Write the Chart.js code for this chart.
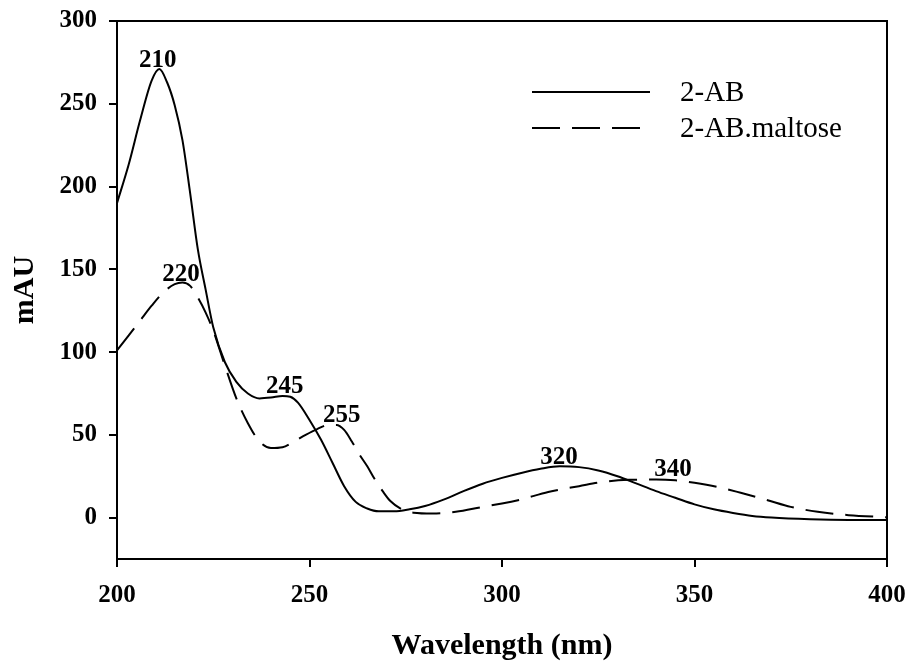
<!DOCTYPE html>
<html>
<head>
<meta charset="utf-8">
<title>2-AB absorbance spectra</title>
<script src="https://cdn.jsdelivr.net/npm/chart.js@4.4.0/dist/chart.umd.min.js"></script>
<style>
  html, body { margin: 0; padding: 0; background: #fff; }
  #wrap { width: 908px; height: 661px; }
</style>
</head>
<body>
<div id="wrap"><canvas id="spectrum" width="908" height="661"></canvas></div>
<script>
// Series 1: 2-AB (solid)
const wavelengthAB = [200, 203, 206, 209, 211, 213, 215, 217, 219, 221, 223, 225, 228, 231, 234, 237, 240, 243, 245, 247, 250, 253, 256, 259, 262, 265, 268, 272, 276, 280, 285, 290, 295, 300, 305, 310, 315, 320, 325, 330, 335, 340, 345, 350, 355, 360, 365, 370, 380, 390, 400];
const absAB = [190, 213, 240, 264, 271, 263, 249, 228, 196, 162, 138, 115, 94, 82, 75, 72, 72.5, 73.5, 73, 69.5, 59, 47, 33, 19, 9.5, 5.5, 3.8, 3.8, 5, 7, 11, 16, 20.5, 24, 27, 29.5, 31, 30.5, 28.5, 25, 20.5, 16, 12, 8, 5, 2.8, 1, 0, -1, -1.4, -1.4];

// Series 2: 2-AB.maltose (dashed)
const wavelengthMal = [200, 203, 206, 209, 212, 215, 217, 219, 221, 223, 225, 228, 231, 234, 237, 240, 243, 246, 249, 252, 255, 257, 259, 261, 263, 265, 267, 269, 271, 274, 277, 282, 288, 295, 300, 305, 312, 320, 327, 333, 340, 345, 350, 356, 362, 369, 375, 382, 390, 400];
const absMal = [101, 110, 119, 128, 136, 141, 142, 140, 133, 124, 113, 92, 72, 57, 46, 42, 42.5, 46, 50, 53.5, 56, 56, 53, 46, 38, 31, 23, 16, 10, 5, 3, 2.5, 3.5, 6.5, 8.5, 11, 15.5, 19, 21.8, 22.8, 23, 22.5, 21, 18.5, 15, 10.5, 6.5, 3.5, 1.5, 0.2];

const seriesNames = ['2-AB', '2-AB.maltose'];

// Peak annotations: label text and where it sits (nm, mAU)
const peakLabels = ['210', '220', '245', '255', '320', '340'];
const peakLabelNm = [210.6, 216.6, 243.6, 258.4, 314.8, 344.4];
const peakLabelAbs = [276, 147, 79, 61.4, 36.5, 28.8];

// Axis ticks
const xTicks = [200, 250, 300, 350, 400];
const yTicks = [0, 50, 100, 150, 200, 250, 300];

const SERIF = '"Liberation Serif", "Times New Roman", serif';

function toPoints(xs, ys) {
    return xs.map((x, i) => ({ x: x, y: ys[i] }));
}

// Box around the plot (top and right edges)
const frame = {
    id: 'frame',
    afterDraw(chart) {
        const { ctx, chartArea: a } = chart;
        ctx.save();
        ctx.strokeStyle = '#000';
        ctx.lineWidth = 2;
        ctx.strokeRect(a.left, a.top, a.right - a.left, a.bottom - a.top);
        ctx.restore();
    }
};

// Peak wavelength labels
const peakText = {
    id: 'peakText',
    afterDatasetsDraw(chart) {
        const { ctx, scales } = chart;
        ctx.save();
        ctx.fillStyle = '#000';
        ctx.font = 'bold 25px ' + SERIF;
        ctx.textAlign = 'center';
        ctx.textBaseline = 'middle';
        peakLabels.forEach((t, i) => {
            ctx.fillText(t, scales.x.getPixelForValue(peakLabelNm[i]), scales.y.getPixelForValue(peakLabelAbs[i]));
        });
        ctx.restore();
    }
};

// Legend drawn inside the plot, top right
const insideLegend = {
    id: 'insideLegend',
    afterDraw(chart) {
        const { ctx } = chart;
        ctx.save();
        ctx.strokeStyle = '#000';
        ctx.lineWidth = 2;
        ctx.fillStyle = '#000';
        ctx.font = '29px ' + SERIF;
        ctx.textBaseline = 'middle';
        chart.data.datasets.forEach((ds, i) => {
            const y = 92 + i * 36;
            ctx.setLineDash(ds.borderDash || []);
            ctx.beginPath();
            ctx.moveTo(532, y);
            ctx.lineTo(650, y);
            ctx.stroke();
            ctx.fillText(ds.label, 680, y + 1);
        });
        ctx.restore();
    }
};

function createSpectrumChart() {
    const ctx = document.getElementById('spectrum');
    new Chart(ctx, {
        type: 'line',
        data: {
            datasets: [
                {
                    label: seriesNames[0],
                    data: toPoints(wavelengthAB, absAB),
                    borderColor: '#000',
                    borderWidth: 2,
                    pointRadius: 0,
                    cubicInterpolationMode: 'monotone',
                    fill: false
                },
                {
                    label: seriesNames[1],
                    data: toPoints(wavelengthMal, absMal),
                    borderColor: '#000',
                    borderWidth: 2,
                    borderDash: [28, 12],
                    pointRadius: 0,
                    cubicInterpolationMode: 'monotone',
                    fill: false
                }
            ]
        },
        options: {
            responsive: false,
            animation: false,
            layout: { padding: { top: 21, right: 21, left: 0, bottom: 0 } },
            plugins: {
                legend: { display: false },
                tooltip: { enabled: false }
            },
            scales: {
                x: {
                    type: 'linear',
                    min: 200,
                    max: 400,
                    afterFit: s => { s.height = 102; s.paddingLeft = 0; s.paddingRight = 0; },
                    afterBuildTicks: s => { s.ticks = xTicks.map(v => ({ value: v })); },
                    grid: { drawOnChartArea: false, drawTicks: true, tickLength: 8, color: '#000', lineWidth: 2 },
                    border: { display: true, color: '#000', width: 2 },
                    ticks: { color: '#000', padding: 14, maxRotation: 0, font: { family: SERIF, size: 25, weight: 'bold' } },
                    title: {
                        display: true,
                        text: 'Wavelength (nm)',
                        color: '#000',
                        padding: 0,
                        font: { family: SERIF, size: 30, weight: 'bold', lineHeight: 1 }
                    }
                },
                y: {
                    min: -25,
                    max: 300,
                    afterFit: s => { s.width = 117; s.paddingTop = 0; s.paddingBottom = 0; },
                    afterBuildTicks: s => { s.ticks = yTicks.map(v => ({ value: v })); },
                    grid: { drawOnChartArea: false, drawTicks: true, tickLength: 8, color: '#000', lineWidth: 2 },
                    border: { display: true, color: '#000', width: 2 },
                    ticks: { color: '#000', padding: 12, font: { family: SERIF, size: 25, weight: 'bold' } },
                    title: {
                        display: true,
                        text: 'mAU',
                        color: '#000',
                        padding: { top: 10, bottom: 0 },
                        font: { family: SERIF, size: 30, weight: 'bold', lineHeight: 1 }
                    }
                }
            }
        },
        plugins: [frame, peakText, insideLegend]
    });
}

document.addEventListener('DOMContentLoaded', createSpectrumChart);
</script>
</body>
</html>
